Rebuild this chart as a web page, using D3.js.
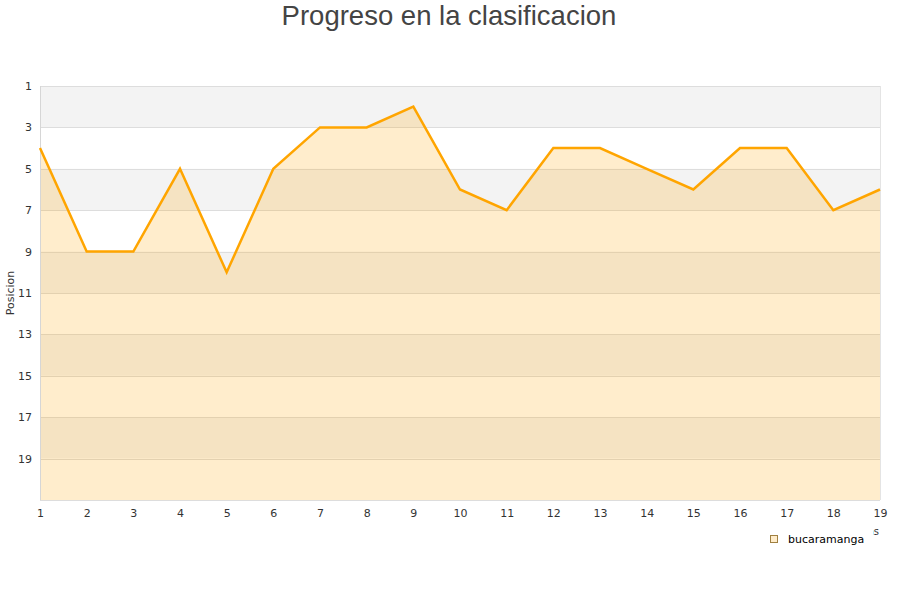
<!DOCTYPE html>
<html>
<head>
<meta charset="utf-8">
<script src="https://cdn.jsdelivr.net/npm/d3@7"></script>
<style>
  html, body { margin: 0; padding: 0; background: #fff; }
  svg { display: block; }
</style>
</head>
<body>
<svg id="chart" width="900" height="600"></svg>
<script>
const jornadas = [1, 2, 3, 4, 5, 6, 7, 8, 9, 10, 11, 12, 13, 14, 15, 16, 17, 18, 19];
const posiciones = [4, 9, 9, 5, 10, 5, 3, 3, 2, 6, 7, 4, 4, 5, 6, 4, 4, 7, 6];
const yTicks = [1, 3, 5, 7, 9, 11, 13, 15, 17, 19];
const serieNombre = "bucaramanga";
const titulo = "Progreso en la clasificacion";
const yTitulo = "Posicion";
const xTitulo = "Jornadas";

(function () {
const svg = d3.select("#chart");
const mLeft = 40, mRight = 880, mTop = 86, mBottom = 500;

const x = d3.scaleLinear().domain([1, 19]).range([mLeft, mRight]);
const y = d3.scaleLinear().domain([1, 21]).range([mTop, mBottom]);

// alternating bands
const bands = d3.range(1, 21, 2);
svg.append("g").selectAll("rect").data(bands).join("rect")
  .attr("x", mLeft).attr("width", mRight - mLeft)
  .attr("y", d => y(d)).attr("height", d => y(d + 2) - y(d))
  .attr("fill", (d, i) => i % 2 === 0 ? "#f3f3f3" : "#ffffff");

// grid lines
svg.append("g").selectAll("line").data(yTicks.concat([21])).join("line")
  .attr("x1", mLeft).attr("x2", mRight)
  .attr("y1", d => Math.round(y(d)) + 0.5).attr("y2", d => Math.round(y(d)) + 0.5)
  .attr("stroke", "#dddddd").attr("stroke-width", 1);

// area
const data = jornadas.map((j, i) => ({ j, p: posiciones[i] }));
svg.append("path").datum(data)
  .attr("d", d3.area().x(d => x(d.j)).y0(y(21)).y1(d => y(d.p)))
  .attr("fill", "#ffa500").attr("fill-opacity", 0.2);

// borders
svg.append("line").attr("x1", mLeft + 0.5).attr("x2", mLeft + 0.5).attr("y1", mTop).attr("y2", mBottom)
  .attr("stroke", "#d6d6d6");
svg.append("line").attr("x1", mRight + 0.5).attr("x2", mRight + 0.5).attr("y1", mTop).attr("y2", mBottom)
  .attr("stroke", "#e4e4e4");

// line
svg.append("path").datum(data)
  .attr("d", d3.line().x(d => x(d.j)).y(d => y(d.p)))
  .attr("fill", "none").attr("stroke", "#ffa500").attr("stroke-width", 2.5)
  .attr("stroke-linejoin", "miter");

// y axis labels
const yAxis = d3.axisLeft(y).tickValues(yTicks).tickSize(0).tickPadding(8);
const gy = svg.append("g").attr("transform", `translate(${mLeft},0)`).call(yAxis);
gy.select(".domain").remove();
gy.selectAll("text").attr("font-family", "DejaVu Sans, sans-serif").attr("font-size", 11).attr("fill", "#333");

// x axis labels
const xAxis = d3.axisBottom(x).tickValues(jornadas).tickSize(0).tickPadding(9);
const gx = svg.append("g").attr("transform", `translate(0,${mBottom})`).call(xAxis);
gx.select(".domain").remove();
gx.selectAll("text").attr("font-family", "DejaVu Sans, sans-serif").attr("font-size", 11).attr("fill", "#333");

// title
svg.append("text").attr("x", 449).attr("y", 25).attr("text-anchor", "middle")
  .attr("font-family", "Liberation Sans, Arial, sans-serif").attr("font-size", 27.5)
  .attr("fill", "#444").text(titulo);

// y title
svg.append("text").attr("transform", "translate(14,293) rotate(-90)").attr("text-anchor", "middle")
  .attr("font-family", "DejaVu Sans, sans-serif").attr("font-size", 11).attr("fill", "#333").text(yTitulo);

// x title (partly hidden behind legend, as in the reference)
svg.append("text").attr("x", 879).attr("y", 535).attr("text-anchor", "end")
  .attr("font-family", "DejaVu Sans, sans-serif").attr("font-size", 10).attr("fill", "#333").text(xTitulo);

// legend
const lg = svg.append("g");
lg.append("rect").attr("x", 760).attr("y", 527).attr("width", 113).attr("height", 24).attr("fill", "#fff");
lg.append("rect").attr("x", 770.5).attr("y", 535.5).attr("width", 7).attr("height", 7)
  .attr("fill", "#ffecca").attr("stroke", "#a08040").attr("stroke-width", 1);
lg.append("text").attr("x", 788).attr("y", 543).attr("font-family", "DejaVu Sans, sans-serif")
  .attr("font-size", 11).attr("fill", "#000").text(serieNombre);
})();
</script>
</body>
</html>
